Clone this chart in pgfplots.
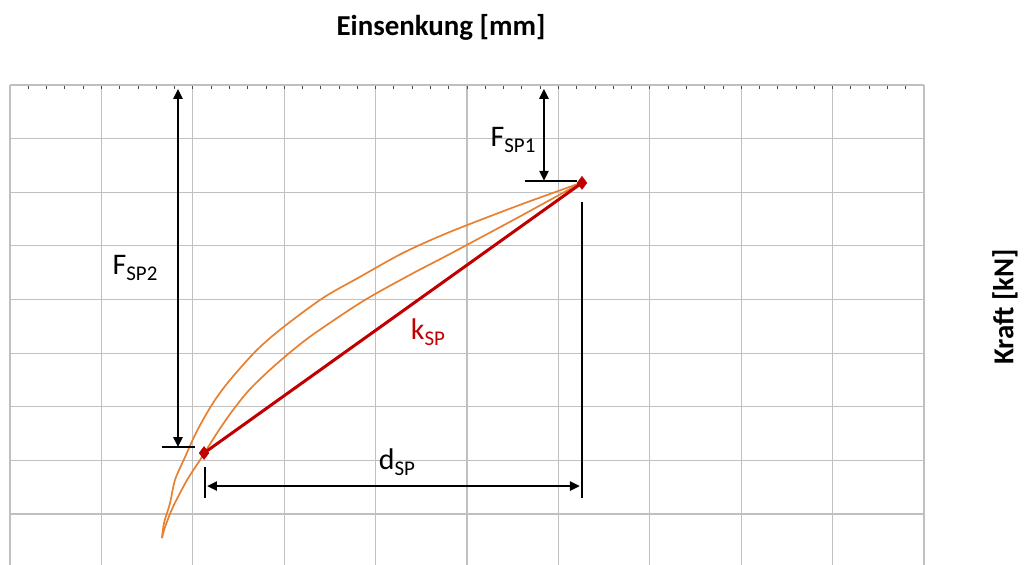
\documentclass[border=0pt]{standalone}
\usepackage{pgfplots}
\pgfplotsset{compat=1.18}
\usepackage{fontspec}
\setmainfont{Carlito}
\usetikzlibrary{arrows.meta}
\definecolor{korange}{RGB}{232,128,48}
\definecolor{kred}{RGB}{192,0,0}
\definecolor{kgrid}{RGB}{192,192,192}
\newcommand{\lab}[2]{\fontsize{30}{30}\selectfont #1\raisebox{-6bp}{\fontsize{21}{21}\selectfont #2}}
\begin{document}
\begin{tikzpicture}
\begin{axis}[
  at={(10bp,0bp)}, anchor=south west,
  scale only axis, width=914bp, height=480bp,
  xmin=0, xmax=10, ymin=-0.95, ymax=8,
  xtick={0,...,10}, ytick={-1,...,8},
  xticklabels={}, yticklabels={},
  minor x tick num=4,
  axis x line*=top, axis y line*=box,
  ytick style={draw=none},
  xtick style={draw=black!70, line width=0.8bp},
  major tick length=4bp, minor tick length=4bp,
  tick align=inside,
  grid=major,
  major grid style={kgrid, line width=1.2bp},
  axis line style={kgrid, line width=1.2bp},
]
% upper curve
\addplot[korange, line width=1.7bp, smooth, tension=0.5] coordinates {
(1.663,-0.448) (1.685,-0.168) (1.751,0.205) (1.805,0.634) (1.915,1.063)
(2.046,1.55) (2.221,2.071) (2.407,2.500) (2.702,3.060) (2.987,3.48)
(3.425,4.030) (3.829,4.422) (4.300,4.869) (4.814,5.261) (5.580,5.765) (6.247,6.175)};
% lower curve
\addplot[korange, line width=1.7bp, smooth, tension=0.5] coordinates {
(1.663,-0.448) (1.696,-0.243) (1.783,0.131) (1.937,0.634) (2.079,1.007)
(2.265,1.511) (2.440,1.940) (2.626,2.33) (2.877,2.74) (3.140,3.12)
(3.359,3.40) (3.862,3.97) (4.376,4.46) (4.814,4.85) (5.580,5.55) (6.247,6.175)};
% secant stiffness line
\addplot[kred, line width=3bp, mark=diamond*, mark size=6.5bp, mark options={fill=kred, draw=kred, line width=0.5bp}] coordinates {
(2.123,1.138) (6.258,6.175)};
% F_SP2
\draw[black, line width=2.4bp, {Triangle[length=10bp,width=9bp]}-{Triangle[length=10bp,width=9bp]}]
  (axis cs:1.838,7.929) -- (axis cs:1.838,1.25);
\draw[black, line width=1.4bp] (axis cs:1.663,1.25) -- (axis cs:2.024,1.25);
% F_SP1
\draw[black, line width=2.4bp, {Triangle[length=10bp,width=9bp]}-{Triangle[length=10bp,width=9bp]}]
  (axis cs:5.842,7.929) -- (axis cs:5.842,6.213);
\draw[black, line width=1.4bp] (axis cs:5.635,6.213) -- (axis cs:6.204,6.213);
% d_SP
\draw[black, line width=2.4bp, {Triangle[length=10bp,width=9bp]}-{Triangle[length=10bp,width=9bp]}]
  (axis cs:2.155,0.522) -- (axis cs:6.236,0.522);
\draw[black, line width=1.6bp] (axis cs:2.133,0.877) -- (axis cs:2.133,0.299);
\draw[black, line width=1.6bp] (axis cs:6.258,5.821) -- (axis cs:6.258,0.299);
% labels
\node[anchor=center] at (axis cs:1.368,4.59) {\lab{F}{SP2}};
\node[anchor=center] at (axis cs:5.503,6.978) {\lab{F}{SP1}};
\node[anchor=center, text=kred] at (axis cs:4.573,3.396) {\lab{k}{SP}};
\node[anchor=center] at (axis cs:4.234,0.97) {\lab{d}{SP}};
\end{axis}
\node[font=\fontsize{29}{29}\selectfont\bfseries] at (441bp,538bp) {Einsenkung [mm]};
\node[font=\fontsize{29}{29}\selectfont\bfseries, rotate=90] at (1005bp,258bp) {Kraft [kN]};
\pgfresetboundingbox
\path (0bp,0bp) rectangle (1027bp,565bp);
\end{tikzpicture}
\end{document}
